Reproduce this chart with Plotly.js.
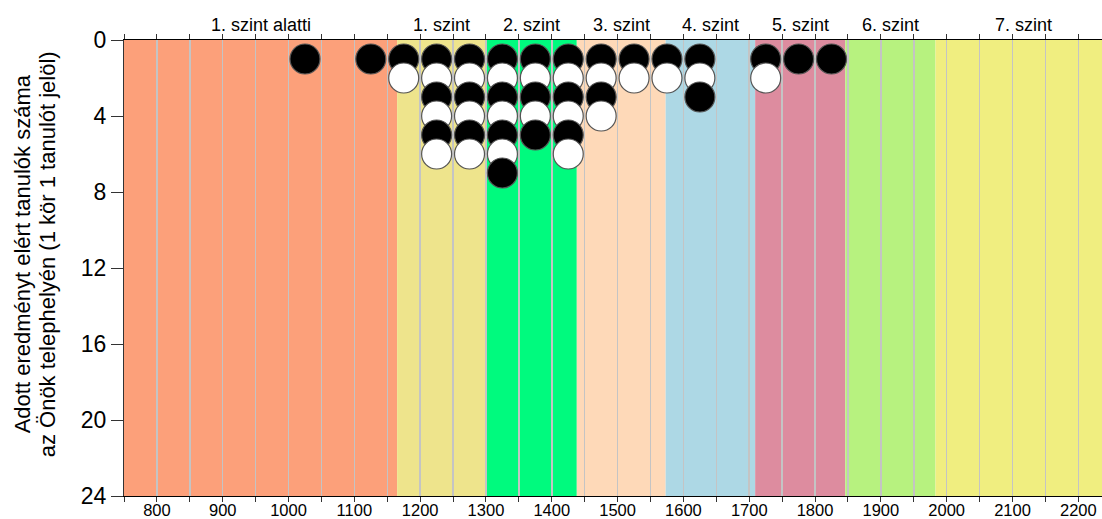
<!DOCTYPE html>
<html>
<head>
<meta charset="utf-8">
<script src="https://cdn.plot.ly/plotly-3.0.1.min.js"></script>
<style>
  html, body { margin: 0; padding: 0; background: #fff; }
  #chart { width: 1102px; height: 519px; }
</style>
</head>
<body>
<div id="chart"></div>
<script>
// ---- data ----
const scores = [1025, 1125, 1175, 1225, 1275, 1325, 1375, 1425, 1475, 1525, 1575, 1625, 1725, 1775, 1825];
const counts = [1, 1, 2, 6, 6, 7, 5, 6, 4, 2, 2, 3, 2, 1, 1];

const bandNames  = ['1. szint alatti', '1. szint', '2. szint', '3. szint', '4. szint', '5. szint', '6. szint', '7. szint'];
const bandStarts = [750, 1165, 1301, 1438, 1573, 1709, 1846, 1983];
const bandEnds   = [1165, 1301, 1438, 1573, 1709, 1846, 1983, 2250];
const bandColors = ['#FCA07A', '#EEE48C', '#00FA7E', '#FED9B8', '#ADD8E5', '#DD8C9F', '#B7F27F', '#F0EE80'];

const xTickVals = [750, 800, 850, 900, 950, 1000, 1050, 1100, 1150, 1200, 1250, 1300, 1350, 1400, 1450, 1500,
                   1550, 1600, 1650, 1700, 1750, 1800, 1850, 1900, 1950, 2000, 2050, 2100, 2150, 2200, 2250];
const xTickText = ['', '800', '', '900', '', '1000', '', '1100', '', '1200', '', '1300', '', '1400', '', '1500',
                   '', '1600', '', '1700', '', '1800', '', '1900', '', '2000', '', '2100', '', '2200', ''];
const yTickVals = [0, 4, 8, 12, 16, 20, 24];

const yTitleLines = ['Adott eredményt elért tanulók száma', 'az Önök telephelyén (1 kör 1 tanulót jelöl)'];

// ---- expand counts into stacked dots (one per student) ----
const dx = [], dy = [], dc = [];
scores.forEach((s, i) => {
  for (let k = 1; k <= counts[i]; k++) {
    dx.push(s); dy.push(k); dc.push(k % 2 === 1 ? '#000000' : '#ffffff');
  }
});

const FONT = 'Liberation Sans, Arial, sans-serif';

const shapes = bandNames.map((n, i) => ({
  type: 'rect', xref: 'x', yref: 'paper',
  x0: bandStarts[i], x1: bandEnds[i], y0: 0, y1: 1,
  fillcolor: bandColors[i], line: { width: 0 }, layer: 'below'
}));

const annotations = bandNames.map((n, i) => ({
  text: n, xref: 'x', yref: 'paper',
  x: (bandStarts[i] + bandEnds[i]) / 2, y: 1,
  xanchor: 'center', yanchor: 'bottom', yshift: 3,
  showarrow: false, font: { family: FONT, size: 18, color: '#000' }
}));

// y-axis title as two rotated lines
const titleShifts = [-102, -77];
yTitleLines.forEach((t, i) => {
  annotations.push({
    text: t, xref: 'paper', yref: 'paper', x: 0, y: 0.53,
    xanchor: 'center', yanchor: 'middle', xshift: titleShifts[i],
    textangle: -90, showarrow: false,
    font: { family: FONT, size: 22, color: '#000' }
  });
});

const trace = {
  type: 'scatter', mode: 'markers', x: dx, y: dy,
  marker: { size: 30, color: dc, line: { color: '#555', width: 1.2 } },
  hoverinfo: 'x+y', showlegend: false, cliponaxis: false
};

const layout = {
  width: 1102, height: 519,
  margin: { l: 124, r: 0, t: 40, b: 23, pad: 0 },
  paper_bgcolor: '#ffffff', plot_bgcolor: '#ffffff',
  font: { family: FONT, color: '#000' },
  showlegend: false,
  shapes: shapes,
  annotations: annotations,
  xaxis: {
    range: [750, 2236], tickmode: 'array', tickvals: xTickVals, ticktext: xTickText,
    showgrid: true, gridcolor: '#c4c4c4', gridwidth: 1.5,
    showline: true, linecolor: '#000', linewidth: 1, mirror: 'ticks',
    ticks: 'outside', ticklen: 5, tickcolor: '#333', tickwidth: 1,
    ticklabelstandoff: -6,
    tickfont: { family: FONT, size: 16.5, color: '#000' },
    zeroline: false, fixedrange: true
  },
  yaxis: {
    range: [24, 0], tickmode: 'array', tickvals: yTickVals,
    showgrid: false, zeroline: false,
    showline: true, linecolor: '#333', linewidth: 1,
    ticks: 'outside', ticklen: 12, tickcolor: '#333', tickwidth: 1,
    tickfont: { family: FONT, size: 23, color: '#000' },
    fixedrange: true
  }
};

Plotly.newPlot('chart', [trace], layout, { displayModeBar: false, staticPlot: true });
</script>
</body>
</html>
